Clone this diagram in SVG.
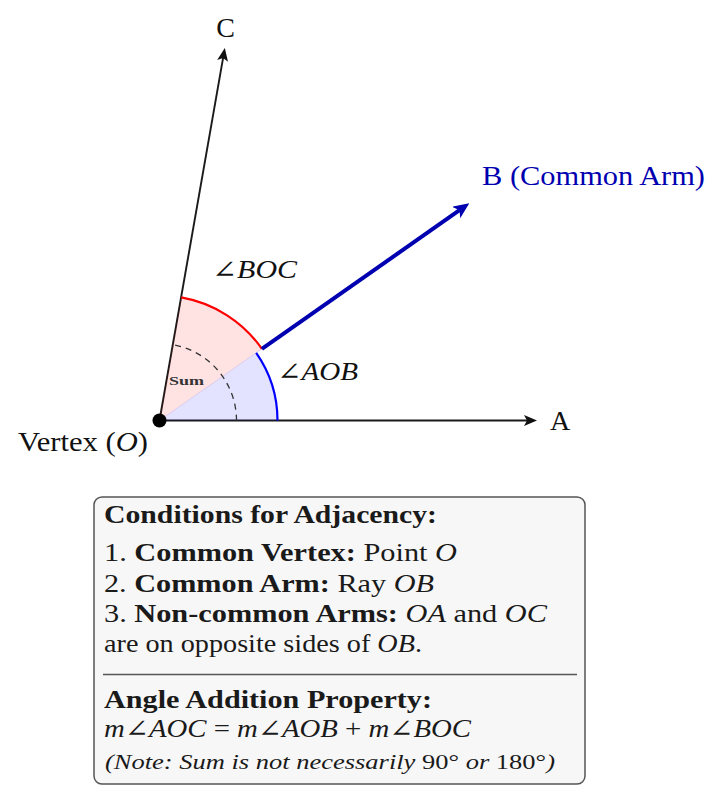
<svg xmlns="http://www.w3.org/2000/svg" width="723" height="798" viewBox="0 0 723 798">
<defs>
<style>
.lbl{font-family:"Liberation Serif","DejaVu Serif",serif;fill:#111;}
.it{font-style:italic;}
.bd{font-weight:bold;}
.box{font-family:"Liberation Serif","DejaVu Serif",serif;font-size:25px;fill:#1a1a1a;}
.ray{stroke:#1a1a1a;stroke-width:1.9;fill:none;}
</style>
<marker id="ah" viewBox="0 0 13 11" refX="3" refY="5.5" markerWidth="13" markerHeight="11" markerUnits="userSpaceOnUse" orient="auto">
<path d="M0,0 L13,5.5 L0,11 L3,5.5 z" fill="#111"/>
</marker>
<marker id="ahb" viewBox="0 0 16 14" refX="4" refY="7" markerWidth="16" markerHeight="14" markerUnits="userSpaceOnUse" orient="auto">
<path d="M0,0 L16,7 L0,14 L4,7 z" fill="#0000b0"/>
</marker>
</defs>

<g id="connectors">
<line id="ray-OA" class="ray" x1="159.5" y1="420.5" x2="527" y2="420.5" marker-end="url(#ah)"/>
<line id="ray-OC" class="ray" x1="159.5" y1="420.5" x2="223.1" y2="57.9" marker-end="url(#ah)"/>
<path id="sector-BOC" d="M159.5,420.5 L261.9,348.8 A125,125 0 0,0 181.2,297.4 Z" fill="#ff0000" fill-opacity="0.11"/>
<path id="sector-AOB" d="M159.5,420.5 L277.5,420.5 A118,118 0 0,0 256.2,352.8 Z" fill="#0000ff" fill-opacity="0.11"/>
<line x1="159.5" y1="420.5" x2="261.9" y2="348.8" stroke="#d4c4ea" stroke-width="0.8"/>
<path id="arc-BOC" d="M261.9,348.8 A125,125 0 0,0 181.2,297.4" fill="none" stroke="#ff0000" stroke-width="2.2"/>
<path id="arc-AOB" d="M277.5,420.5 A118,118 0 0,0 256.2,352.8" fill="none" stroke="#0000ff" stroke-width="2.2"/>
<path id="arc-sum" d="M236.5,420.5 A77,77 0 0,0 172.9,344.7" fill="none" stroke="#333" stroke-width="1.3" stroke-dasharray="6,5"/>
<line id="ray-OB" x1="261.9" y1="348.8" x2="459.5" y2="210.2" stroke="#0000b0" stroke-width="4" marker-end="url(#ahb)"/>
</g>

<g id="node-O">
<circle cx="159.5" cy="420.5" r="7" fill="#000"/>
<text class="lbl" x="18" y="451" font-size="28" textLength="130" lengthAdjust="spacingAndGlyphs">Vertex (<tspan class="it">O</tspan>)</text>
</g>
<g id="node-A">
<text class="lbl" x="560" y="430" font-size="28" text-anchor="middle">A</text>
</g>
<g id="node-C">
<text class="lbl" x="225.5" y="37" font-size="28" text-anchor="middle">C</text>
</g>
<g id="node-B">
<text class="lbl" x="482" y="185" font-size="28" style="fill:#0000b0" textLength="223" lengthAdjust="spacingAndGlyphs">B (Common Arm)</text>
</g>
<g id="label-BOC">
<text class="lbl it" x="212" y="278" font-size="25" textLength="85" lengthAdjust="spacingAndGlyphs">∠BOC</text>
</g>
<g id="label-AOB">
<text class="lbl it" x="277" y="380" font-size="25" textLength="81" lengthAdjust="spacingAndGlyphs">∠AOB</text>
</g>
<g id="label-sum">
<text class="lbl bd" x="169" y="385" font-size="12.5" style="fill:#333" textLength="35" lengthAdjust="spacingAndGlyphs">Sum</text>
</g>

<g id="node-box">
<rect x="94" y="497" width="491" height="287" rx="8" ry="8" fill="#f7f7f7" stroke="#555" stroke-width="1.5"/>
<text class="box bd" x="104" y="523" textLength="333" lengthAdjust="spacingAndGlyphs">Conditions for Adjacency:</text>
<text class="box" x="104" y="561" textLength="353" lengthAdjust="spacingAndGlyphs">1. <tspan class="bd">Common Vertex:</tspan> Point <tspan class="it">O</tspan></text>
<text class="box" x="104" y="592" textLength="330" lengthAdjust="spacingAndGlyphs">2. <tspan class="bd">Common Arm:</tspan> Ray <tspan class="it">OB</tspan></text>
<text class="box" x="104" y="622" textLength="443" lengthAdjust="spacingAndGlyphs">3. <tspan class="bd">Non-common Arms:</tspan> <tspan class="it">OA</tspan> and <tspan class="it">OC</tspan></text>
<text class="box" x="104" y="652" textLength="318" lengthAdjust="spacingAndGlyphs">are on opposite sides of <tspan class="it">OB</tspan>.</text>
<line x1="103" y1="674.5" x2="577" y2="674.5" stroke="#555" stroke-width="1.5"/>
<text class="box bd" x="104" y="708" textLength="328" lengthAdjust="spacingAndGlyphs">Angle Addition Property:</text>
<text class="box" x="104" y="737" textLength="367" lengthAdjust="spacingAndGlyphs"><tspan class="it">m∠AOC</tspan> = <tspan class="it">m∠AOB</tspan> + <tspan class="it">m∠BOC</tspan></text>
<text class="box" x="105" y="769" style="font-size:22px" textLength="450" lengthAdjust="spacingAndGlyphs"><tspan class="it">(Note: Sum is not necessarily</tspan> 90° <tspan class="it">or</tspan> 180°<tspan class="it">)</tspan></text>
</g>
</svg>
